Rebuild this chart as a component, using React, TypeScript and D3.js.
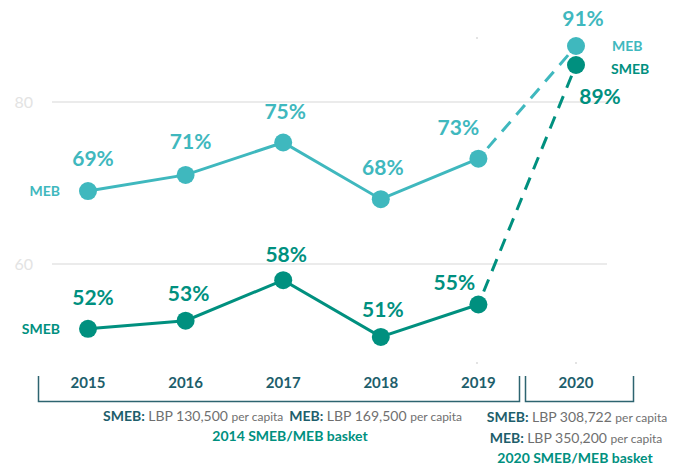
import React from "react";
import * as d3 from "d3";

const years = ["2015", "2016", "2017", "2018", "2019", "2020"];
const mebValues = [69, 71, 75, 68, 73, 91];
const smebValues = [52, 53, 58, 51, 55, 89];
const gridTicks = [60, 80];

const MEB_COLOR = "#3fb8be";
const SMEB_COLOR = "#00907f";
const DARK = "#1d5e6b";
const GRAY = "#6f6f6f";
const FONT = "Lato, 'Open Sans', sans-serif";

// label offsets relative to each point (style only)
const mebLabelOffset: [number, number][] = [[5, -25], [5, -26], [2, -24], [2, -24], [-20, -24], [7, -20]];
const smebLabelOffset: [number, number][] = [[5, -24], [3, -20], [3, -18], [2, -20], [-24, -15], [24, 39]];

export default function App() {
  const W = 682, H = 465;
  const x = d3.scalePoint<string>().domain(years).range([88, 576]);
  const y = d3.scaleLinear().domain([60, 80]).range([264, 102]);
  // 2020 values are drawn on a compressed top segment
  const y2020 = d3.scaleLinear().domain([89, 91]).range([65, 46]);
  const yy = (v: number, i: number) => (i === 5 ? y2020(v) : y(v));

  const solid = d3.line<number>().x((_, i) => x(years[i])!).y((v, i) => yy(v, i));
  const mebSolid = solid(mebValues.slice(0, 5))!;
  const smebSolid = solid(smebValues.slice(0, 5))!;
  const dashed = (vals: number[]) =>
    d3.line<number>().x((_, i) => x(years[i + 4])!).y((v, i) => yy(v, i + 4))(vals.slice(4))!;

  return (
    <svg width={W} height={H} style={{ position: "absolute", left: 0, top: 0, fontFamily: FONT }}>
      <rect width={W} height={H} fill="#fff" />
      {gridTicks.map((t) => (
        <g key={t}>
          <line x1={52} x2={607} y1={y(t)} y2={y(t)} stroke="#ebebeb" strokeWidth={2} />
          <text x={33} y={y(t)} dy="0.35em" textAnchor="end" fontSize={16} fill="#e3e3e3">{t}</text>
        </g>
      ))}
      {/* faint category marks */}
      <rect x={476} y={37} width={2} height={2} fill="#e3e3e3" />
      <rect x={476} y={362} width={2} height={2} fill="#e3e3e3" />
      <rect x={575} y={362} width={2} height={2} fill="#e3e3e3" />

      <path d={mebSolid} fill="none" stroke={MEB_COLOR} strokeWidth={3} />
      <path d={smebSolid} fill="none" stroke={SMEB_COLOR} strokeWidth={3} />
      <path d={dashed(mebValues)} fill="none" stroke={MEB_COLOR} strokeWidth={3} strokeDasharray="13 9" strokeDashoffset={-14} />
      <path d={dashed(smebValues)} fill="none" stroke={SMEB_COLOR} strokeWidth={3} strokeDasharray="13 9" strokeDashoffset={-14} />

      {mebValues.map((v, i) => (
        <circle key={"m" + i} cx={x(years[i])} cy={yy(v, i)} r={9} fill={MEB_COLOR} />
      ))}
      {smebValues.map((v, i) => (
        <circle key={"s" + i} cx={x(years[i])} cy={yy(v, i)} r={9} fill={SMEB_COLOR} />
      ))}

      {mebValues.map((v, i) => (
        <text key={"ml" + i} x={x(years[i])! + mebLabelOffset[i][0]} y={yy(v, i) + mebLabelOffset[i][1]}
          textAnchor="middle" fontSize={21} fill={MEB_COLOR} fontWeight={700}>{v}%</text>
      ))}
      {smebValues.map((v, i) => (
        <text key={"sl" + i} x={x(years[i])! + smebLabelOffset[i][0]} y={yy(v, i) + smebLabelOffset[i][1]}
          textAnchor="middle" fontSize={21} fill={SMEB_COLOR} fontWeight={700}>{v}%</text>
      ))}

      {/* series names */}
      <text x={60} y={y(mebValues[0])} dy="0.35em" textAnchor="end" fontSize={14} fontWeight={700} fill={MEB_COLOR}>MEB</text>
      <text x={60} y={y(smebValues[0])} dy="0.35em" textAnchor="end" fontSize={14} fontWeight={700} fill={SMEB_COLOR}>SMEB</text>
      <text x={612} y={y2020(mebValues[5])} dy="0.35em" fontSize={14} fontWeight={700} fill={MEB_COLOR}>MEB</text>
      <text x={611} y={y2020(smebValues[5]) + 4} dy="0.35em" fontSize={14} fontWeight={700} fill={SMEB_COLOR}>SMEB</text>

      {/* year labels */}
      {years.map((yr) => (
        <text key={yr} x={x(yr)} y={383} dy="0.35em" textAnchor="middle" fontSize={15} fontWeight={700} fill={DARK}>{yr}</text>
      ))}

      {/* brackets */}
      <path d="M38.5,376 V401.5 H519.5 V376" fill="none" stroke="#2d6470" strokeWidth={1.5} />
      <path d="M525.5,376 V401.5 H633.5 V376" fill="none" stroke="#2d6470" strokeWidth={1.5} />

      {/* annotations */}
      <text x={103} y={421} fontSize={14}>
        <tspan fontWeight={700} fill={DARK}>SMEB: </tspan>
        <tspan fill={GRAY}>LBP 130,500 </tspan>
        <tspan fill={GRAY} fontSize={12}>per capita</tspan>
        <tspan fontWeight={700} fill={DARK} dx={6}>MEB: </tspan>
        <tspan fill={GRAY}>LBP 169,500 </tspan>
        <tspan fill={GRAY} fontSize={12}>per capita</tspan>
      </text>
      <text x={290} y={441} textAnchor="middle" fontSize={14} fontWeight={700} fill={SMEB_COLOR}>2014 SMEB/MEB basket</text>

      <text x={577} y={422} textAnchor="middle" fontSize={14}>
        <tspan fontWeight={700} fill={DARK}>SMEB: </tspan>
        <tspan fill={GRAY}>LBP 308,722 </tspan>
        <tspan fill={GRAY} fontSize={12}>per capita</tspan>
      </text>
      <text x={576} y={443} textAnchor="middle" fontSize={14}>
        <tspan fontWeight={700} fill={DARK}>MEB: </tspan>
        <tspan fill={GRAY}>LBP 350,200 </tspan>
        <tspan fill={GRAY} fontSize={12}>per capita</tspan>
      </text>
      <text x={575} y={463} textAnchor="middle" fontSize={14} fontWeight={700} fill={SMEB_COLOR}>2020 SMEB/MEB basket</text>
    </svg>
  );
}
